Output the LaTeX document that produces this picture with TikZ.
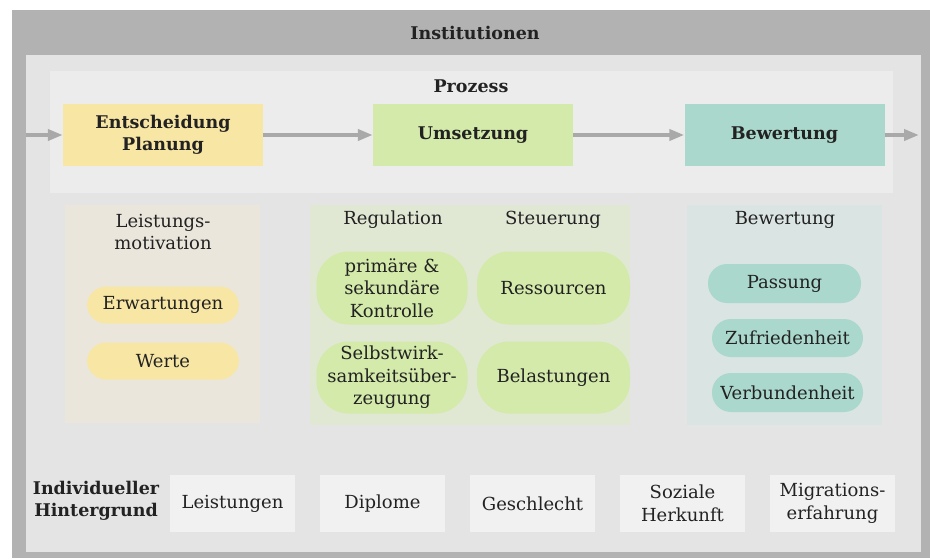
\documentclass[tikz,border=0pt]{standalone}
\usepackage{fontspec}
\setmainfont{DejaVu Serif}
\usetikzlibrary{arrows.meta}
\definecolor{frame}{HTML}{B2B2B2}
\definecolor{inner}{HTML}{E4E4E4}
\definecolor{procbg}{HTML}{ECECEC}
\definecolor{ylw}{HTML}{F8E6A4}
\definecolor{grn}{HTML}{D4EAAA}
\definecolor{teal}{HTML}{AAD8CC}
\definecolor{ylwbg}{HTML}{EAE6DC}
\definecolor{grnbg}{HTML}{E0E8D4}
\definecolor{tealbg}{HTML}{DAE4E2}
\definecolor{bgbox}{HTML}{F1F1F1}
\definecolor{arrowgray}{HTML}{A9A9A9}
\definecolor{ink}{HTML}{222222}
\tikzset{
  txt/.style={font=\fontsize{18}{22.5}\selectfont, text=ink, align=center, inner sep=0pt},
  bold/.style={txt, font=\fontsize{17.5}{22.5}\selectfont\bfseries},
  stage/.style={bold, minimum width=200pt, minimum height=62pt},
  pill/.style={txt, rounded corners=#1, inner sep=0pt},
  pill/.default=19pt,
  hbox/.style={txt, fill=bgbox, minimum width=125pt, minimum height=57pt},
  flow/.style={draw=arrowgray, line width=4pt, -{Triangle[length=15pt,width=11pt]}}
}
\begin{document}
\begin{tikzpicture}[x=1pt, y=-1pt]
\useasboundingbox (0,0) rectangle (930,558);
\fill[white] (0,0) rectangle (930,558);
% outer frame: Institutionen
\fill[frame] (12,10) rectangle (930,558);
\fill[inner] (26,55) rectangle (921,552);
\node[bold] (inst) at (475,33) {Institutionen};
% process band
\fill[procbg] (50,71) rectangle (893,193);
\node[bold] (proz) at (471,86) {Prozess};
\node[stage, fill=ylw] (plan) at (163,135) {Entscheidung\\Planung};
\node[stage, fill=grn] (ums) at (473,135) {Umsetzung};
\node[stage, fill=teal] (bew) at (784.5,135) {Bewertung};
\coordinate (in) at (26,135);
\coordinate (out) at (919,135);
\draw[flow] (in) -- (plan);
\draw[flow] (plan) -- (ums);
\draw[flow] (ums) -- (bew);
\draw[flow] (bew) -- (out);
% lower panels
\fill[ylwbg] (65,205) rectangle (260,423);
\fill[grnbg] (310,205) rectangle (630,425);
\fill[tealbg] (687,205) rectangle (882,425);
\node[txt] (lm) at (163,232) {Leistungs-\\motivation};
\node[txt] (reg) at (393,220) {Regulation};
\node[txt] (steu) at (553,220) {Steuerung};
\node[txt] (bewh) at (785,220) {Bewertung};
% Leistungsmotivation
\node[pill, fill=ylw, minimum width=152pt, minimum height=37pt] (erw) at (163,305) {Erwartungen};
\node[pill, fill=ylw, minimum width=152pt, minimum height=37pt] (wert) at (163,361) {Werte};
% Regulation / Steuerung
\node[pill=32pt, fill=grn, minimum width=151pt, minimum height=73pt] (kon) at (392,288) {primäre \&\\sekundäre\\Kontrolle};
\node[pill=32pt, fill=grn, minimum width=151pt, minimum height=72pt] (sw) at (392,377.5) {Selbstwirk-\\samkeitsüber-\\zeugung};
\node[pill=32pt, fill=grn, minimum width=153pt, minimum height=73pt] (res) at (553.5,288) {Ressourcen};
\node[pill=32pt, fill=grn, minimum width=153pt, minimum height=72pt] (bel) at (553.5,377.5) {Belastungen};
% Bewertung
\node[pill, fill=teal, minimum width=153pt, minimum height=39pt] (pas) at (784.5,283.5) {Passung};
\node[pill, fill=teal, minimum width=151pt, minimum height=38pt] (zuf) at (787.5,338) {Zufriedenheit};
\node[pill, fill=teal, minimum width=151pt, minimum height=39pt] (ver) at (787.5,392.5) {Verbundenheit};
% individueller Hintergrund
\node[bold] (ih) at (96,501) {Individueller\\Hintergrund};
\node[hbox] (h1) at (232.5,503.5) {Leistungen};
\node[hbox] (h2) at (382.5,503.5) {Diplome};
\node[hbox] (h3) at (532.5,503.5) {Geschlecht};
\node[hbox] (h4) at (682.5,503.5) {Soziale\\Herkunft};
\node[hbox] (h5) at (832.5,503.5) {Migrations-\\erfahrung};
\end{tikzpicture}
\end{document}
